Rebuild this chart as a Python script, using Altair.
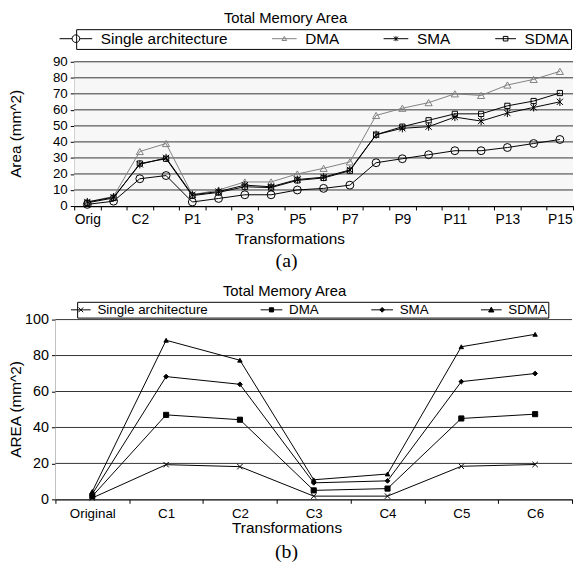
import altair as alt
import pandas as pd

# ---------------- data (a) ----------------
cats_a = ["Orig", "C1", "C2", "C3", "P1", "P2", "P3", "P4", "P5", "P6", "P7",
          "P8", "P9", "P10", "P11", "P12", "P13", "P14", "P15"]
shown_a = ["Orig", "C2", "P1", "P3", "P5", "P7", "P9", "P11", "P13", "P15"]
series = ["Single architecture", "DMA", "SMA", "SDMA"]
single_a = [1, 3, 17, 19, 2.5, 4.7, 7, 7, 10, 11, 13, 27, 29.5, 32, 34.5, 34.5, 36.5, 39, 41.5]
dma_a = [2.5, 6, 34, 39, 7, 10, 15, 15, 20, 23.5, 27.5, 56.5, 61, 64.5, 70, 69, 75.5, 79, 84]
sma_a = [2.5, 5.5, 26, 30, 7, 9, 13, 12, 16.5, 18, 22.5, 44.5, 48.5, 49.5, 55.5, 53, 58, 61.5, 65]
sdma_a = [2, 5, 26.5, 29.5, 6.5, 8.5, 12, 11.5, 16, 17.5, 22, 44.5, 49.5, 53.5, 57.5, 57.5, 62.5, 65.5, 70.5]
yticks_a = [0, 10, 20, 30, 40, 50, 60, 70, 80, 90]

# ---------------- data (b) ----------------
cats_b = ["Original", "C1", "C2", "C3", "C4", "C5", "C6"]
single_b = [0.8, 19.3, 18.2, 1.8, 1.8, 18.4, 19.4]
dma_b = [1.8, 47, 44.3, 5, 6, 45, 47.4]
sma_b = [3, 68.3, 64, 9.2, 10.3, 65.5, 70]
sdma_b = [4.4, 88.5, 77.4, 10.9, 14.1, 84.9, 91.8]
yticks_b = [0, 20, 40, 60, 80, 100]

TITLE = "Total Memory Area"
XTITLE = "Transformations"


def long(cats, cols):
    rows = []
    for s, vals in zip(series, cols):
        for i, (c, v) in enumerate(zip(cats, vals)):
            rows.append({"cat": c, "idx": i, "series": s, "val": v})
    return pd.DataFrame(rows)


df_a = long(cats_a, [single_a, dma_a, sma_a, sdma_a])
df_b = long(cats_b, [single_b, dma_b, sma_b, sdma_b])

FONT = "Liberation Sans"


def f(v):
    return f"{v:.3f}".rstrip("0").rstrip(".")


def seg(w_px, u, kind, s):
    L = 1 - w_px / u
    R = 1.0
    c = (L + R) / 2
    if kind == "circle":
        return (f"M{f(L)},0H{f(c - s)}M{f(c + s)},0H{f(R)}"
                f"M{f(c - s)},0A{f(s)},{f(s)} 0 1,0 {f(c + s)},0A{f(s)},{f(s)} 0 1,0 {f(c - s)},0Z")
    line = f"M{f(L)},0H{f(R)}"
    if kind == "triangle":
        return line + f"M{f(c)},{f(-s)}L{f(c + s)},{f(s * 0.8)}H{f(c - s)}Z"
    if kind == "asterisk":
        return line + (f"M{f(c - s)},{f(-s)}L{f(c + s)},{f(s)}M{f(c - s)},{f(s)}L{f(c + s)},{f(-s)}"
                       f"M{f(c)},{f(-s * 1.2)}V{f(s * 1.2)}")
    if kind == "square":
        return line + f"M{f(c - s)},{f(-s)}H{f(c + s)}V{f(s)}H{f(c - s)}Z"
    if kind == "diamond":
        return line + f"M{f(c)},{f(-s)}L{f(c + s)},0L{f(c)},{f(s)}L{f(c - s)},0Z"
    if kind == "x":
        return line + f"M{f(c - s)},{f(-s)}L{f(c + s)},{f(s)}M{f(c - s)},{f(s)}L{f(c + s)},{f(-s)}"
    return line


ASTER = "M-1,-1L1,1M-1,1L1,-1M0,-1.3V1.3"
XMARK = "M-1,-1L1,1M-1,1L1,-1"


def text_layer(txt, x, y, size, font=FONT, angle=0, baseline="middle"):
    return alt.Chart(alt.Data(values=[{"t": txt}])).mark_text(
        font=font, fontSize=size, color="black", baseline=baseline, align="center", angle=angle
    ).encode(text="t:N", x=alt.value(x), y=alt.value(y))


def make_panel(df, cats, x0, W, H, ymax, yticks, ytitle, colors, shapes, sizes, fills,
               leg_paths, leg_unit, leg_font, leg_pad, leg_colpad, leg_off, leg_x, leg_y,
               xlab_size, ylab_size, xtitle_x, xtitle_y, ytitle_x, title_x, title_y,
               tag, tag_x, tag_y, bg, lab_expr):
    xscale = alt.Scale(type="band", domain=cats, range=[x0, W], paddingInner=0, paddingOuter=0)
    axis_x = dict(title=XTITLE, titleX=xtitle_x, titleY=xtitle_y, titleBaseline="middle",
                  titleFontSize=15.5, titleFontWeight="normal", titleColor="black", titleFont=FONT,
                  labelAngle=0, labelFontSize=xlab_size, labelColor="black", labelFont=FONT,
                  labelPadding=3, labelOverlap=False, tickBand="extent", tickSize=4,
                  tickColor="black", grid=False, domainColor="black", domainWidth=1.5)
    if lab_expr:
        axis_x["labelExpr"] = lab_expr
    x = alt.X("cat:N", scale=xscale, bandPosition=0.5, axis=alt.Axis(**axis_x))
    y = alt.Y("val:Q", scale=alt.Scale(domain=[0, ymax], nice=False),
              axis=alt.Axis(values=yticks, title=None, offset=-x0,
                            labelFontSize=ylab_size, labelColor="black", labelFont=FONT, labelPadding=3,
                            tickSize=4, tickColor="black", domainColor="black", domainWidth=1,
                            grid=False))
    stroke_scale = alt.Scale(domain=series, range=colors)

    # invisible guide that fixes the panel's left extent (keeps the y title inside the page)
    edge = alt.Chart(alt.Data(values=[{"k": 1}])).mark_rule(opacity=0).encode(
        x=alt.value(-48), y=alt.value(0), y2=alt.value(10))

    background = alt.Chart(alt.Data(values=[{"k": 1}])).mark_rect(fill=bg).encode(
        x=alt.value(x0), x2=alt.value(W), y=alt.value(0), y2=alt.value(H))

    grid = alt.Chart(alt.Data(values=[{"val": v} for v in yticks if v > 0])).mark_rule(
        color="#333333", strokeWidth=1).encode(y=y, x=alt.value(x0), x2=alt.value(W))

    lines = alt.Chart().mark_line(strokeWidth=1).encode(
        x=x, y=y, order=alt.Order("idx:Q"),
        stroke=alt.Stroke("series:N", scale=stroke_scale, legend=None))

    points = alt.Chart().mark_point(filled=True, opacity=1, strokeWidth=1).encode(
        x=x, y=y,
        shape=alt.Shape("series:N", scale=alt.Scale(domain=series, range=shapes), legend=None),
        size=alt.Size("series:N", scale=alt.Scale(domain=series, range=sizes), legend=None),
        stroke=alt.Stroke("series:N", scale=stroke_scale, legend=None),
        fill=alt.Fill("series:N", scale=alt.Scale(domain=series, range=fills), legend=None))

    leg = alt.Legend(orient="none", legendX=leg_x, legendY=leg_y, direction="horizontal", columns=4,
                     title=None, labelFontSize=leg_font, labelFont=FONT, labelColor="black",
                     symbolSize=leg_unit * leg_unit * 4, symbolStrokeWidth=1, strokeColor="black",
                     padding=leg_pad, columnPadding=leg_colpad, labelOffset=leg_off)
    legend_layer = alt.Chart().mark_point(filled=True, opacity=1, strokeWidth=1).encode(
        shape=alt.Shape("series:N", scale=alt.Scale(domain=series, range=leg_paths), legend=leg),
        stroke=alt.Stroke("series:N", scale=stroke_scale, legend=leg),
        fill=alt.Fill("series:N", scale=alt.Scale(domain=series, range=fills), legend=leg),
    ).transform_filter("false")

    title_l = text_layer(TITLE, title_x, title_y, 15, baseline="top")
    ytitle_l = text_layer(ytitle, ytitle_x, H / 2, 15.5, angle=270)
    tag_l = text_layer(tag, tag_x, tag_y, 20, font="Liberation Serif")

    return alt.layer(edge, background, grid, lines, points, legend_layer, title_l, ytitle_l, tag_l,
                     data=df).resolve_scale(
        shape="independent", stroke="independent", fill="independent", size="independent"
    ).properties(
        width=W, height=H,
        view=alt.ViewBackground(fill="white", strokeWidth=0),
    )


u_a = 7
leg_paths_a = [seg(33, u_a, "circle", 0.55), seg(25, u_a, "triangle", 0.33),
               seg(25, u_a, "asterisk", 0.3), seg(21, u_a, "square", 0.33)]
u_b = 6
leg_paths_b = [seg(20, u_b, "x", 0.4), seg(22, u_b, "square", 0.35),
               seg(22, u_b, "diamond", 0.4), seg(21, u_b, "triangle", 0.45)]

lab_expr_a = "indexof(" + str(shown_a) + ", datum.value) >= 0 ? datum.label : ''"

H_A, H_B = 146, 182

# both panels share a group origin near page x=56; panel (a)'s plot starts 19px further right
top = make_panel(
    df_a, cats_a, 19, 524, H_A, 90, yticks_a, "Area (mm^2)",
    colors=["black", "#808080", "black", "black"],
    shapes=["circle", "triangle-up", ASTER, "square"],
    sizes=[64, 28, 36, 25],
    fills=["transparent", "transparent", "transparent", "transparent"],
    leg_paths=leg_paths_a, leg_unit=u_a, leg_font=15.5, leg_pad=1.5, leg_colpad=42, leg_off=8,
    leg_x=21, leg_y=-33, xlab_size=14, ylab_size=13.5, xtitle_x=237, xtitle_y=33,
    ytitle_x=-40, title_x=233, title_y=-51, tag="(a)", tag_x=234, tag_y=H_A + 56, bg="#f7f7f7",
    lab_expr=lab_expr_a)

bottom = make_panel(
    df_b, cats_b, 0, 523, H_B, 100, yticks_b, "AREA (mm^2)",
    colors=["black", "black", "black", "black"],
    shapes=[XMARK, "square", "diamond", "triangle-up"],
    sizes=[30, 20, 25, 30],
    fills=["transparent", "black", "black", "black"],
    leg_paths=leg_paths_b, leg_unit=u_b, leg_font=13.5, leg_pad=1, leg_colpad=50, leg_off=6,
    leg_x=22, leg_y=-18, xlab_size=13.5, ylab_size=14.5, xtitle_x=234, xtitle_y=29,
    ytitle_x=-40, title_x=232, title_y=-36, tag="(b)", tag_x=234, tag_y=H_B + 53, bg="white",
    lab_expr=None)

chart = alt.vconcat(top, bottom, spacing=13).resolve_scale(
    shape="independent", stroke="independent", fill="independent", size="independent",
    x="independent", y="independent"
).properties(
    padding=0
).configure(font=FONT)

chart.save("out.html", embed_options={"renderer": "svg", "actions": False})
